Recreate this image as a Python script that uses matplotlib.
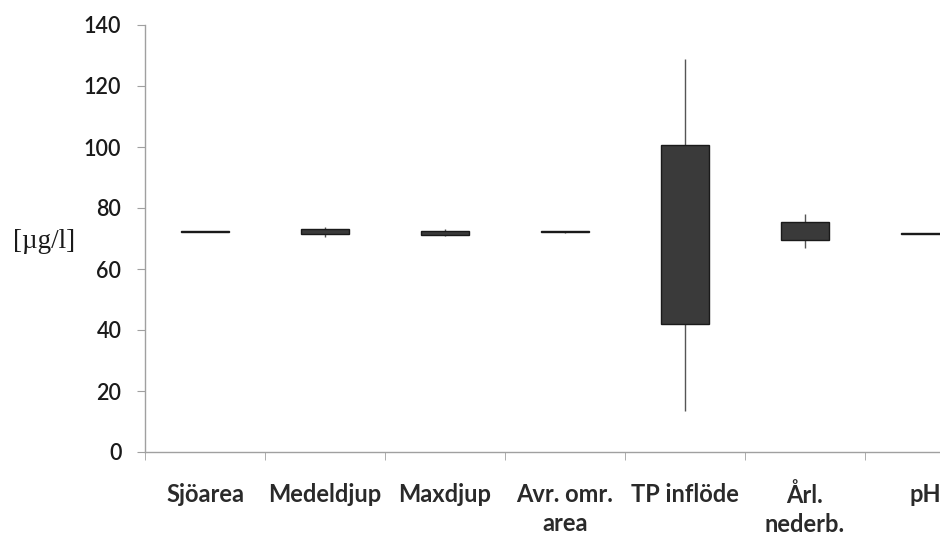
import matplotlib
matplotlib.use("Agg")
import matplotlib.pyplot as plt
import numpy as np

categories = ["Sjöarea", "Medeldjup", "Maxdjup", "Avr. omr.\narea", "TP inflöde", "Årl.\nnederb.", "pH"]
box_low = [72.0, 71.4, 71.3, 72.0, 42.0, 69.5, 71.5]
box_high = [72.4, 73.1, 72.6, 72.4, 100.5, 75.5, 71.9]
whisker_low = [72.0, 70.6, 70.8, 71.7, 13.5, 67.0, 71.5]
whisker_high = [72.4, 73.8, 73.0, 72.6, 129.0, 78.0, 71.9]
yticks = [0, 20, 40, 60, 80, 100, 120, 140]

fig = plt.figure(figsize=(9.4, 5.36), dpi=100)
ax = fig.add_axes([145/940, 1-452/536, 840/940, (452-25)/536])

x = np.arange(len(categories))
ax.vlines(x, whisker_low, whisker_high, color="#555555", linewidth=1.0, zorder=2)
heights = [h - l for h, l in zip(box_high, box_low)]
ax.bar(x, heights, bottom=box_low, width=0.4, color="#3a3a3a",
       edgecolor="#1a1a1a", linewidth=1.0, zorder=3)

ax.set_xlim(-0.5, len(categories) - 0.5)
ax.set_ylim(0, 140)
ax.set_yticks(yticks)
ax.set_yticklabels([str(v) for v in yticks], fontsize=15.5, family="Lato",
                   fontweight="semibold", color="#1a1a1a")
ax.set_xticks(x)
ax.set_xticklabels(categories, fontsize=17, family="Lato", fontweight="bold",
                   color="#2a2a2a", linespacing=1.35)
ax.set_xticks(np.arange(len(categories) + 1) - 0.5, minor=True)
ax.tick_params(axis="x", which="major", length=0, pad=22)
ax.tick_params(axis="x", which="minor", length=6, color="#a0a0a0", direction="out")
ax.tick_params(axis="y", length=6, color="#a0a0a0", direction="out", pad=11)

for s in ["top", "right"]:
    ax.spines[s].set_visible(False)
for s in ["left", "bottom"]:
    ax.spines[s].set_color("#a0a0a0")
    ax.spines[s].set_linewidth(1.0)

fig.text(13/940, 1-241/536, "[µg/l]", fontsize=19.5, family="Liberation Serif",
         color="#1a1a1a", va="center", ha="left")

fig.savefig("out.png", dpi=100)
